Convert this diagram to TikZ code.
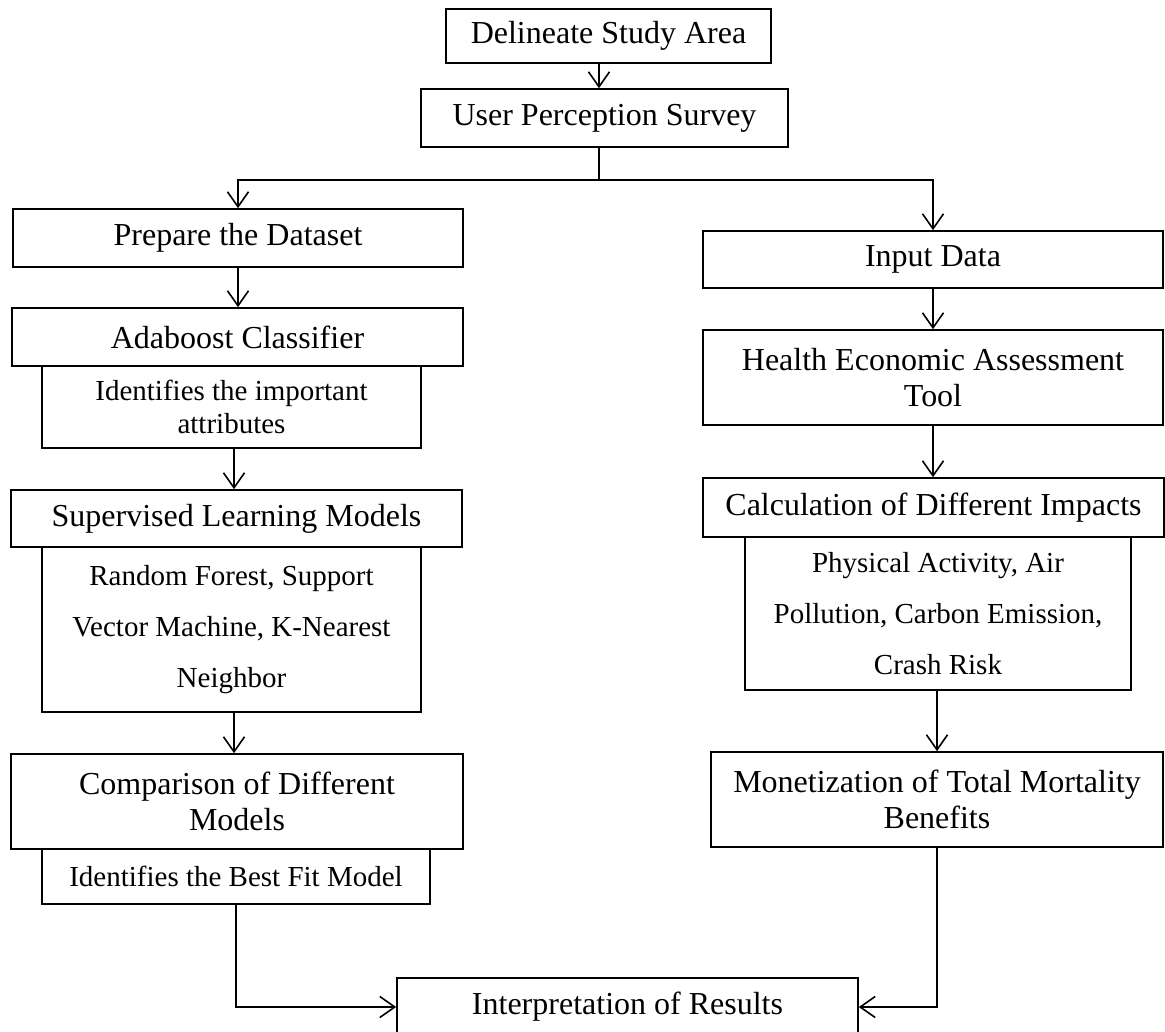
\documentclass[tikz,border=0pt]{standalone}
\usepackage{fontspec}
\setmainfont{Liberation Serif}
\usetikzlibrary{arrows.meta}
\begin{document}
\begin{tikzpicture}[x=1pt,y=-1pt,
  box/.style={draw, line width=1.6pt, inner sep=0pt, align=center,
    font=\fontsize{32}{36}\selectfont},
  subbox/.style={box, font=\fontsize{29}{33}\selectfont},
  widesub/.style={box, font=\fontsize{29}{51}\selectfont},
  arr/.style={line width=1.6pt, -{Straight Barb[length=15pt,width=21pt]}},
  link/.style={line width=1.6pt}]
\useasboundingbox (0,0) rectangle (1165,1032);

% top of the flow
\node[box, minimum width=325, minimum height=54] (del) at (608.5,36) {Delineate Study Area};
\node[box, minimum width=367, minimum height=58] (usp) at (604.5,118) {User Perception Survey};
\coordinate (split) at (599,180);

% machine learning branch
\node[box, minimum width=450, minimum height=58] (prep) at (238,238) {Prepare the Dataset};
\node[box, minimum width=451, minimum height=58] (ada) at (237.5,337) {Adaboost Classifier};
\node[subbox, minimum width=379, minimum height=82] (imp) at (231.5,407) {Identifies the important\\attributes};
\node[box, minimum width=451, minimum height=57] (sup) at (236.5,518.5) {Supervised Learning Models};
\node[widesub, minimum width=379, minimum height=165] (mods) at (231.5,629.5) {Random Forest, Support\\Vector Machine, K-Nearest\\Neighbor};
\node[box, minimum width=452, minimum height=95] (cmp) at (237,801.5) {Comparison of Different\\Models};
\node[subbox, minimum width=388, minimum height=55] (best) at (236,876.5) {Identifies the Best Fit Model};

% health economic branch
\node[box, minimum width=460, minimum height=57] (inp) at (933,259.5) {Input Data};
\node[box, minimum width=460, minimum height=95] (heat) at (933,377.5) {Health Economic Assessment\\Tool};
\node[box, minimum width=461, minimum height=59] (calc) at (933.5,507.5) {Calculation of Different Impacts};
\node[widesub, minimum width=386, minimum height=153] (imps) at (938,613.5) {Physical Activity, Air\\Pollution, Carbon Emission,\\Crash Risk};
\node[box, minimum width=452, minimum height=95] (mon) at (937,799.5) {Monetization of Total Mortality\\Benefits};

% common end
\node[box, minimum width=461, minimum height=58] (res) at (627.5,1007) {Interpretation of Results};

% connectors
\draw[arr] (del.south -| split) -- (usp.north -| split);
\draw[link] (usp.south -| split) -- (split);
\draw[arr] (split) -| (prep.north);
\draw[arr] (split) -| (inp.north);

\draw[arr] (prep.south) -- (prep.south |- ada.north);
\draw[arr] (imp.south -| 234,0) -- (sup.north -| 234,0);
\draw[arr] (mods.south -| 234,0) -- (cmp.north -| 234,0);
\draw[arr] (best.south) |- (res.west);

\draw[arr] (inp.south) -- (heat.north);
\draw[arr] (heat.south) -- (heat.south |- calc.north);
\draw[arr] (imps.south -| mon.north) -- (mon.north);
\draw[arr] (mon.south) |- (res.east);
\end{tikzpicture}
\end{document}
